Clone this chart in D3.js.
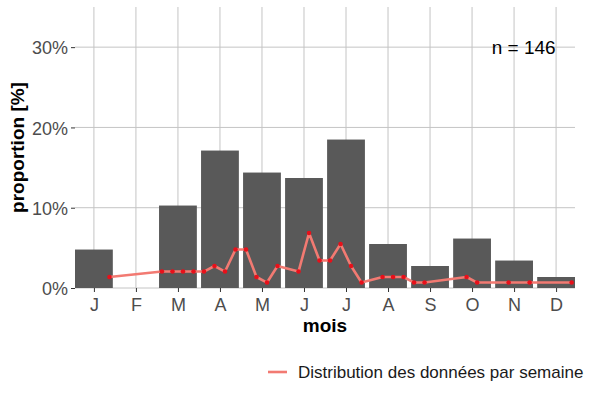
<!DOCTYPE html>
<html>
<head>
<meta charset="utf-8">
<script src="https://cdn.jsdelivr.net/npm/d3@7"></script>
<style>
  body { margin: 0; background: #fff; }
  text { font-family: "Liberation Sans", Arial, sans-serif; }
</style>
</head>
<body>
<svg id="chart"></svg>
<script>
// monthly bars (proportion of observations)
var months = [1, 2, 3, 4, 5, 6, 7, 8, 9, 10, 11, 12];
var monthLabels = ["J", "F", "M", "A", "M", "J", "J", "A", "S", "O", "N", "D"];
var monthProp = [0.0479, 0, 0.1027, 0.1712, 0.1438, 0.137, 0.1849, 0.0548, 0.0274, 0.0616, 0.0342, 0.0137];

// weekly line (week index, proportion)
var weeks = [4, 9, 10, 11, 12, 13, 14, 15, 16, 17, 18, 19, 20, 22, 23, 24, 25, 26, 27, 28, 30, 31, 32, 33, 34, 38, 39, 42, 44, 48];
var weekProp = [0.0137, 0.0205, 0.0205, 0.0205, 0.0205, 0.0205, 0.0274, 0.0205, 0.0479, 0.0479,
  0.0137, 0.0068, 0.0274, 0.0205, 0.0685, 0.0342, 0.0342, 0.0548, 0.0274, 0.0068,
  0.0137, 0.0137, 0.0137, 0.0068, 0.0068, 0.0137, 0.0068, 0.0068, 0.0068, 0.0068];

var yTicks = [0, 0.1, 0.2, 0.3];
var nLabel = "n = 146";
var legendLabel = "Distribution des données par semaine";

var W = 600, H = 400;
var margin = { top: 7, right: 25, bottom: 112, left: 75 };
var width = W - margin.left - margin.right,
  height = H - margin.top - margin.bottom;

var svg = d3.select("#chart").attr("width", W).attr("height", H);
var g = svg.append("g")
  .attr("transform", "translate(" + margin.left + "," + margin.top + ")");

var x = d3.scaleLinear().domain([0.55, 12.45]).range([0, width]);
var y = d3.scaleLinear().domain([0, 0.35]).range([height, 0]);
// week index -> position on the month axis
var weekToMonth = d3.scaleLinear().domain([0, 4]).range([0.37, 1.37]);

// grid
g.selectAll(".hgrid").data(yTicks).enter().append("line")
  .attr("x1", 0).attr("x2", width)
  .attr("y1", function (d) { return y(d); }).attr("y2", function (d) { return y(d); })
  .attr("stroke", "#c4c4c4").attr("stroke-width", 1);
g.selectAll(".vgrid").data(months).enter().append("line")
  .attr("x1", function (d) { return x(d); }).attr("x2", function (d) { return x(d); })
  .attr("y1", 0).attr("y2", height)
  .attr("stroke", "#c4c4c4").attr("stroke-width", 1);

// bars
g.selectAll(".bar").data(months).enter().append("rect")
  .attr("x", function (d) { return x(d - 0.45); })
  .attr("width", x(0.9) - x(0))
  .attr("y", function (d, i) { return y(monthProp[i]); })
  .attr("height", function (d, i) { return height - y(monthProp[i]); })
  .attr("fill", "#595959");

// weekly line
var pts = weeks.map(function (w, i) { return [weekToMonth(w), weekProp[i]]; });
g.append("path")
  .datum(pts)
  .attr("fill", "none")
  .attr("stroke", "#f27a72")
  .attr("stroke-width", 2.6)
  .attr("stroke-linejoin", "round")
  .attr("d", d3.line()
    .x(function (d) { return x(d[0]); })
    .y(function (d) { return y(d[1]); }));
g.selectAll(".pt").data(pts).enter().append("circle")
  .attr("cx", function (d) { return x(d[0]); })
  .attr("cy", function (d) { return y(d[1]); })
  .attr("r", 2.3)
  .attr("fill", "#e8101a");

// axes
var xAxis = g.append("g")
  .attr("transform", "translate(0," + height + ")")
  .call(d3.axisBottom(x).tickValues(months)
    .tickFormat(function (d, i) { return monthLabels[i]; })
    .tickSize(4).tickPadding(6));
var yAxis = g.append("g")
  .call(d3.axisLeft(y).tickValues(yTicks)
    .tickFormat(d3.format(".0%")).tickSize(4).tickPadding(3));
[xAxis, yAxis].forEach(function (a) {
  a.select(".domain").remove();
  a.selectAll(".tick line").attr("stroke", "#333");
  a.selectAll(".tick text").attr("fill", "#4d4d4d")
    .style("font-size", "18px");
});
yAxis.selectAll(".tick text").attr("dy", "0.38em");

// n label
g.append("text")
  .attr("x", x(11.23)).attr("y", y(0.3))
  .attr("dy", "0.36em")
  .attr("text-anchor", "middle")
  .style("font-size", "19px")
  .attr("fill", "#000")
  .text(nLabel);

// axis titles
svg.append("text")
  .attr("x", margin.left + width / 2).attr("y", 332)
  .attr("text-anchor", "middle")
  .style("font-size", "19px").style("font-weight", "bold")
  .text("mois");
svg.append("text")
  .attr("transform", "translate(24," + (margin.top + height / 2) + ") rotate(-90)")
  .attr("text-anchor", "middle")
  .style("font-size", "19px").style("font-weight", "bold")
  .text("proportion [%]");

// legend
var leg = svg.append("g").attr("transform", "translate(268,372)");
leg.append("line")
  .attr("x1", 0).attr("x2", 19)
  .attr("stroke", "#f27a72").attr("stroke-width", 2.6);
leg.append("text")
  .attr("x", 30).attr("dy", "0.36em")
  .style("font-size", "17px").attr("fill", "#1a1a1a")
  .text(legendLabel);
</script>
</body>
</html>
